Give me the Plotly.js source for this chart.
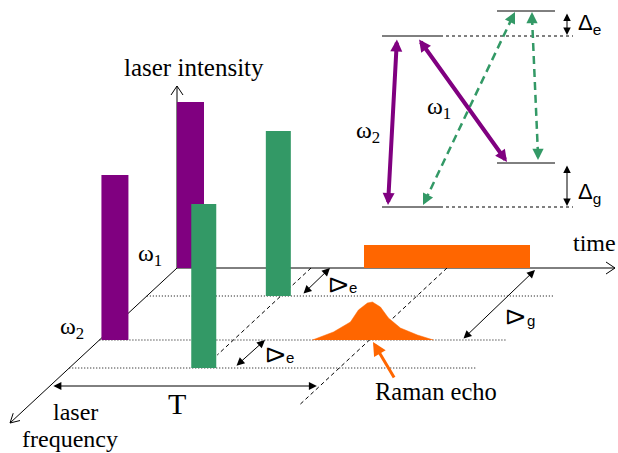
<!DOCTYPE html>
<html>
<head>
<meta charset="utf-8">
<script src="https://cdn.plot.ly/plotly-3.0.1.min.js"></script>
<style>html,body{margin:0;padding:0;background:#fff;}#chart{width:618px;height:453px;}</style>
</head>
<body>
<div id="chart"></div>
<script>
// ---- data (diagram units: time along the time axis, depth = frequency row offset, intensity upward)
const pulseNames = ['ω1 pulse 1', 'ω2 pulse 1', 'ω1 − Δe pulse 2', 'ω2 + Δe pulse 2'];
const pulseTime = [0, 2, 119, 122];
const pulseDepth = [0, 72, 28, 100];
const pulseIntensity = [166, 165, 165, 164];
const pulseKind = ['pump', 'pump', 'probe', 'probe'];

const readoutStart = 187;
const readoutEnd = 353;
const readoutIntensity = 23;

const echoTime = [213, 234, 251, 259, 268, 273, 281, 289, 301, 318, 334];
const echoAmp  = [0, 8, 18, 30, 37, 38, 33, 22, 12, 5, 0];
const echoDepth = 72;

const rowDepths = [28, 72, 100];
const rowEnd = 407;

// ---- styles
const PURPLE = '#800080', GREEN = '#339966', ORANGE = '#FF6600';
const SERIF = 'Liberation Serif';
const SANS = 'Liberation Sans';
const kindColor = {pump: PURPLE, probe: GREEN};
const kindWidth = {pump: 27, probe: 25};

// ---- projection of diagram units onto the page axes
const O = [177, 268];
const K = -167 / 155;
function P(t, d) { return [O[0] + t + d * K, O[1] + d]; }

const traces = [];
traces.push({
  type: 'bar', name: 'read-out',
  x: [P(readoutStart, 0)[0] + (readoutEnd - readoutStart) / 2],
  base: [O[1]], y: [-readoutIntensity], width: [readoutEnd - readoutStart],
  marker: {color: ORANGE, line: {width: 0}}, hoverinfo: 'skip'
});
traces.push({
  type: 'bar', name: 'pulses', text: pulseNames, textposition: 'none',
  x: pulseTime.map((t, i) => P(t, pulseDepth[i])[0] + kindWidth[pulseKind[i]] / 2),
  base: pulseDepth.map(d => P(0, d)[1]),
  y: pulseIntensity.map(v => -v),
  width: pulseKind.map(k => kindWidth[k]),
  marker: {color: pulseKind.map(k => kindColor[k]), line: {width: 0}}, hoverinfo: 'skip'
});
traces.push({
  type: 'scatter', mode: 'lines', fill: 'toself', name: 'echo',
  x: echoTime.map(t => P(t, echoDepth)[0]),
  y: echoAmp.map(a => P(0, echoDepth)[1] - a),
  line: {color: ORANGE, width: 0.5}, fillcolor: ORANGE, hoverinfo: 'skip'
});

function line(p, q, opts) {
  return Object.assign({type: 'line', xref: 'x', yref: 'y', x0: p[0], y0: p[1], x1: q[0], y1: q[1], layer: 'below',
    line: {color: 'black', width: 1}}, opts || {});
}
function chevron(tail, tip, len, half) {
  const dx = tip[0] - tail[0], dy = tip[1] - tail[1], L = Math.hypot(dx, dy);
  const ux = dx / L, uy = dy / L, nx = -uy, ny = ux;
  const bx = tip[0] - len * ux, by = tip[1] - len * uy;
  return {type: 'path', xref: 'x', yref: 'y', layer: 'below',
    path: `M${bx + half * nx},${by + half * ny} L${tip[0]},${tip[1]} L${bx - half * nx},${by - half * ny}`,
    line: {color: 'black', width: 1}};
}

const shapes = [];
const timeTip = [615, O[1]];
const intTip = [O[0], 86];
const freqTip = P(0, 155);
shapes.push(line(O, timeTip), chevron(O, timeTip, 9, 6));
shapes.push(line(O, intTip), chevron(O, intTip, 9, 6));
shapes.push(line(O, freqTip), chevron(O, freqTip, 9, 5));
rowDepths.forEach(d => shapes.push(line(P(0, d), P(rowEnd, d), {line: {color: 'black', width: 1, dash: '1px,2px'}})));
shapes.push(line(P(134, 0), P(134, 87), {line: {color: 'black', width: 1, dash: '4px,3px'}}));
shapes.push(line(P(270, 0), P(270, 137), {line: {color: 'black', width: 1, dash: '4px,3px'}}));

// energy level diagram
const lvlTop = 11, lvlE = 36, lvlMid = 163, lvlG = 207;
shapes.push(line([497, lvlTop], [555, lvlTop], {layer: 'above'}));
shapes.push(line([382, lvlE], [440, lvlE], {layer: 'above'}));
shapes.push(line([440, lvlE], [573, lvlE], {layer: 'above', line: {color: 'black', width: 1, dash: '3px,3px'}}));
shapes.push(line([497, lvlMid], [555, lvlMid], {layer: 'above'}));
shapes.push(line([382, lvlG], [440, lvlG], {layer: 'above'}));
shapes.push(line([440, lvlG], [573, lvlG], {layer: 'above', line: {color: 'black', width: 1, dash: '3px,3px'}}));
shapes.push(line([425, 201], [513, 16], {layer: 'above', line: {color: GREEN, width: 2.5, dash: '8px,5px'}}));
shapes.push(line([532, 17], [538, 155], {layer: 'above', line: {color: GREEN, width: 2.5, dash: '8px,5px'}}));

function arrow2(a, b, color, width, size) {
  return {xref: 'x', yref: 'y', axref: 'x', ayref: 'y', x: b[0], y: b[1], ax: a[0], ay: a[1], text: '',
    showarrow: true, arrowhead: 2, startarrowhead: 2, arrowside: 'end+start', arrowsize: size, startarrowsize: size,
    arrowwidth: width, arrowcolor: color, standoff: 0, startstandoff: 0};
}
function arrow1(a, b, color, width, size) {
  return {xref: 'x', yref: 'y', axref: 'x', ayref: 'y', x: b[0], y: b[1], ax: a[0], ay: a[1], text: '',
    showarrow: true, arrowhead: 2, arrowsize: size, arrowwidth: width, arrowcolor: color, standoff: 0};
}
function head(tip, dx, dy, color) {
  return {xref: 'x', yref: 'y', x: tip[0], y: tip[1], ax: dx, ay: dy, text: '', showarrow: true,
    arrowhead: 2, arrowsize: 0.9, arrowwidth: 2.5, arrowcolor: color, standoff: 0};
}
function txt(x, y, text, size, family, extra) {
  return Object.assign({xref: 'x', yref: 'y', x: x, y: y, text: text, showarrow: false,
    xanchor: 'center', yanchor: 'middle', font: {family: family || SERIF, size: size, color: 'black'}}, extra || {});
}

const annotations = [
  txt(194, 67, 'laser intensity', 25),
  txt(594, 243, 'time', 24),
  txt(150, 255, 'ω<sub>1</sub>', 24),
  txt(72, 328, 'ω<sub>2</sub>', 24),
  txt(177, 403, 'T', 30),
  txt(75, 412, 'laser', 24),
  txt(70, 439, 'frequency', 24),
  txt(436, 391, 'Raman echo', 24.5),
  arrow2(P(2, 118), P(267, 118), 'black', 1, 1.6),
  arrow2([302, 295], [330, 268], 'black', 1, 1.6),
  arrow2([235, 367], [265, 340], 'black', 1, 1.6),
  arrow2([462, 340], [535, 270], 'black', 1, 1.6),
  arrow1([395, 379], [373, 342], ORANGE, 3, 0.9),
  txt(339, 285, 'Δ', 24, SANS, {textangle: 90}),
  txt(353, 287, 'e', 15, SANS),
  txt(276, 355, 'Δ', 24, SANS, {textangle: 90}),
  txt(290, 357, 'e', 15, SANS),
  txt(516, 317, 'Δ', 24, SANS, {textangle: 90}),
  txt(531, 320, 'g', 15, SANS),
  arrow2([397, 38], [388, 205], PURPLE, 4, 0.6),
  arrow2([418, 38], [507, 162], PURPLE, 4, 0.6),
  head([423, 205], 4, -8, GREEN),
  head([515, 12], -4, 8, GREEN),
  head([532, 12], 0, 9, GREEN),
  head([538, 160], 0, -9, GREEN),
  arrow2([567, 12], [567, 35], 'black', 1, 1.5),
  arrow2([567, 164], [567, 206], 'black', 1, 1.5),
  txt(589, 24, 'Δ<sub>e</sub>', 22, SANS),
  txt(589, 193, 'Δ<sub>g</sub>', 22, SANS),
  txt(439, 108, 'ω<sub>1</sub>', 24),
  txt(368, 132, 'ω<sub>2</sub>', 24)
];

const layout = {
  width: 618, height: 453, margin: {l: 0, r: 0, t: 0, b: 0},
  paper_bgcolor: 'white', plot_bgcolor: 'white', showlegend: false, hovermode: false,
  barmode: 'overlay',
  xaxis: {range: [0, 618], visible: false, fixedrange: true},
  yaxis: {range: [453, 0], visible: false, fixedrange: true},
  shapes: shapes, annotations: annotations
};
Plotly.newPlot('chart', traces, layout, {staticPlot: true, displayModeBar: false});
</script>
</body>
</html>
